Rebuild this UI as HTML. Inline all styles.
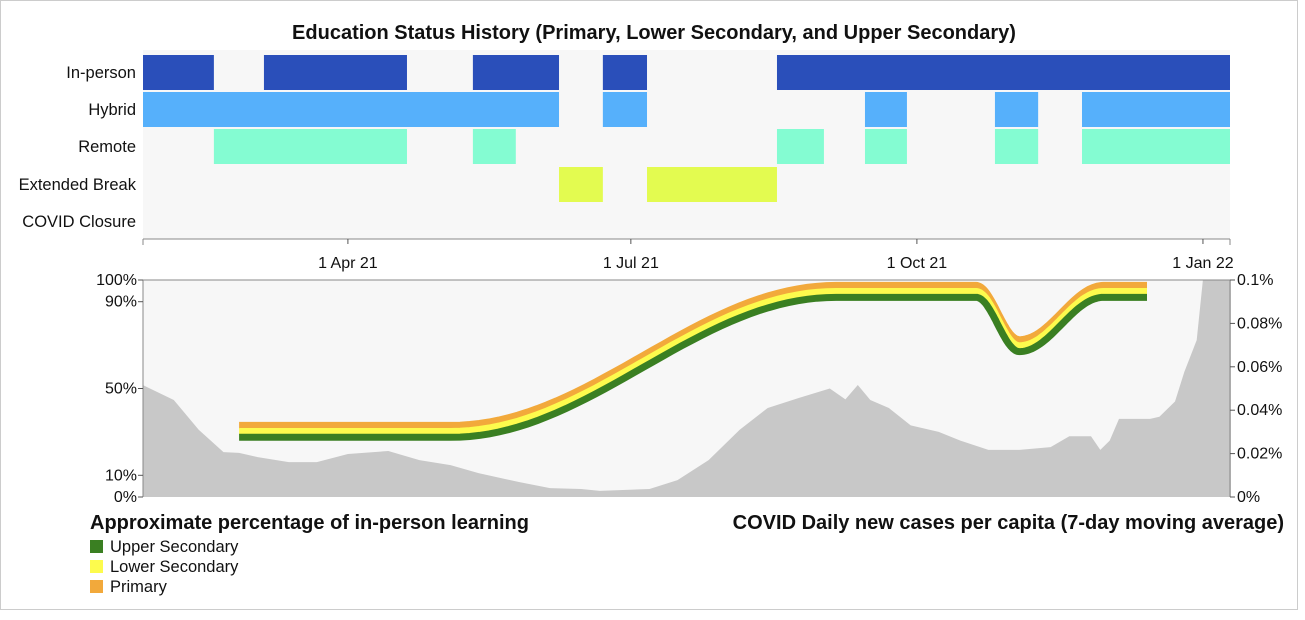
<!DOCTYPE html>
<html><head><meta charset="utf-8"><style>
body{margin:0;background:#fff;font-family:"Liberation Sans",Arial,sans-serif;}
svg text{font-family:"Liberation Sans",Arial,sans-serif;fill:#111;}
</style></head><body>
<svg id="chart" width="1305" height="615" xmlns="http://www.w3.org/2000/svg">
<rect x="0.5" y="0.5" width="1297" height="609" fill="#fff" stroke="#ccc"/>
<text x="654" y="39" text-anchor="middle" font-size="20" font-weight="bold">Education Status History (Primary, Lower Secondary, and Upper Secondary)</text>
<g id="timeline"></g>
<g id="lower"></g>
<text x="90" y="529" font-size="20" font-weight="bold">Approximate percentage of in-person learning</text>
<text x="1284" y="529" text-anchor="end" font-size="20" font-weight="bold">COVID Daily new cases per capita (7-day moving average)</text>
<g>
<rect x="90" y="540" width="13" height="13" fill="#3a7f22"/>
<text x="110" y="552" font-size="16.5">Upper Secondary</text>
<rect x="90" y="560" width="13" height="13" fill="#fdfb4d"/>
<text x="110" y="572" font-size="16.5">Lower Secondary</text>
<rect x="90" y="580" width="13" height="13" fill="#f2a93b"/>
<text x="110" y="592" font-size="16.5">Primary</text>
</g>
</svg>
<script>
// Day numbers counted from 1 Jan 2021 (day 0)
const statusRows = ["In-person","Hybrid","Remote","Extended Break","COVID Closure"];
const inPersonSpans = [[24.1,46.9],[63,109],[130.2,157.9],[172,186.2],[228,373.7]];
const hybridSpans = [[24.1,157.9],[172,186.2],[256.3,269.8],[298.1,312],[326.1,373.7]];
const remoteSpans = [[46.9,109],[130.2,144],[228,243.1],[256.3,269.8],[298.1,312],[326.1,373.7]];
const breakSpans = [[157.9,172],[186.2,228]];
const closureSpans = [];
const tickDays = [90,181,273,365];
const tickLabels = ["1 Apr 21","1 Jul 21","1 Oct 21","1 Jan 22"];
const learnDays = [55,123,247,292,306,333,347];
const upperPct = [27.5,27.5,92,92,67,92,92];
const lowerPct = [30.2,30.2,94.7,94.7,69.7,94.7,94.7];
const primaryPct = [33,33,97.5,97.5,72.5,97.5,97.5];
const caseDays = [24,34,42,50,55,61,71,80,90,103,113,123,132,145,155,165,171,187,196,206,216,225,235,245,250,254,258,264,271,280,287,296,306,316,322,329,332,335,338,348,351,356,359,363,365,374];
const casePct = [.0516,.0447,.031,.0207,.0203,.0184,.0161,.0161,.0198,.0212,.017,.0147,.011,.0069,.0041,.0037,.0028,.0037,.0078,.017,.031,.041,.0456,.05,.045,.0516,.0447,.041,.033,.03,.026,.0217,.0217,.023,.028,.028,.0217,.026,.036,.036,.037,.044,.0576,.0723,.1,.1];
const leftTicks = [0,10,50,90,100];
const rightTicks = [0,0.02,0.04,0.06,0.08,0.1];

const NS="http://www.w3.org/2000/svg";
const X0=143,X1=1230,D0=24.1,D1=373.7;
const x=d=>X0+(d-D0)/(D1-D0)*(X1-X0);
const YB=497,YT=280;
const yL=v=>YB-v/100*(YB-YT);
const yR=v=>YB-Math.min(v,0.1)/0.1*(YB-YT);
function mk(tag,attrs,parent){const e=document.createElementNS(NS,tag);for(const k in attrs)e.setAttribute(k,attrs[k]);parent.appendChild(e);return e;}

const tl=document.getElementById('timeline');
let bg=mk('rect',{x:X0,y:50,width:X1-X0,height:189,fill:'#f7f7f7'},tl);


const rowTop=[55,92,129,167,204], rowH=35;
const spans=[inPersonSpans,hybridSpans,remoteSpans,breakSpans,closureSpans];
const colors=['#2a4fba','#56b0fb','#84fcd2','#e3fb50','#d9534f'];
statusRows.forEach((r,i)=>{
  const t=mk('text',{x:136,y:rowTop[i]+23,'text-anchor':'end','font-size':'16.5'},tl);t.textContent=r;
  
  
  spans[i].forEach(s=>{
    const b=mk('rect',{x:x(s[0]),y:rowTop[i],width:x(s[1])-x(s[0]),height:rowH,fill:colors[i]},tl);
    
    
  });
});
let ax=mk('line',{x1:X0,x2:X1,y1:239,y2:239,stroke:'#888'},tl);


mk('line',{x1:X0,x2:X0,y1:239,y2:245,stroke:'#888'},tl);
mk('line',{x1:X1,x2:X1,y1:239,y2:245,stroke:'#888'},tl);
tickDays.forEach((d,i)=>{
  mk('line',{x1:x(d),x2:x(d),y1:239,y2:244,stroke:'#555'},tl);
  mk('line',{x1:x(d),x2:x(d),y1:280,y2:284,stroke:'#555'},tl);
  const t=mk('text',{x:x(d),y:268,'text-anchor':'middle','font-size':'16'},tl);t.textContent=tickLabels[i];
  
  
});

const lo=document.getElementById('lower');
let bg2=mk('rect',{x:X0,y:YT,width:X1-X0,height:YB-YT,fill:'#f7f7f7'},lo);


let dpath='M'+x(caseDays[0])+','+YB;
caseDays.forEach((d,i)=>{dpath+=' L'+x(d).toFixed(1)+','+yR(casePct[i]).toFixed(1);});
dpath+=' L'+x(caseDays[caseDays.length-1])+','+YB+'Z';
let area=mk('path',{d:dpath,fill:'#c8c8c8'},lo);


mk('line',{x1:X0,x2:X1,y1:YT,y2:YT,stroke:'#888'},lo);
mk('line',{x1:X0,x2:X0,y1:YT,y2:YB,stroke:'#888'},lo);
mk('line',{x1:X1,x2:X1,y1:YT,y2:YB,stroke:'#888'},lo);
leftTicks.forEach(v=>{
  mk('line',{x1:X0-5,x2:X0,y1:yL(v),y2:yL(v),stroke:'#555'},lo);
  const t=mk('text',{x:X0-6,y:yL(v)+5,'text-anchor':'end','font-size':'16'},lo);t.textContent=v+'%';
  
  
});
rightTicks.forEach(v=>{
  mk('line',{x1:X1,x2:X1+5,y1:yR(v),y2:yR(v),stroke:'#555'},lo);
  const t=mk('text',{x:X1+7,y:yR(v)+5,'font-size':'16'},lo);t.textContent=(v===0?'0':String(v))+'%';
  
  
});
function smooth(days,vals){
  let p='';
  for(let i=0;i<days.length-1;i++){
    for(let k=0;k<=40;k++){
      const t=k/40, e=(1-Math.cos(Math.PI*t))/2;
      const d=days[i]+(days[i+1]-days[i])*t, v=vals[i]+(vals[i+1]-vals[i])*e;
      p+=(p?' L':'M')+x(d).toFixed(1)+','+yL(v).toFixed(1);
    }
  }
  return p;
}
[[primaryPct,'#f2a93b','primary-line'],[lowerPct,'#fdfb4d','lower-secondary-line'],[upperPct,'#3a7f22','upper-secondary-line']].forEach(s=>{
  const p=mk('path',{d:smooth(learnDays,s[0]),fill:'none',stroke:s[1],'stroke-width':7},lo);
  
  
});
</script>
</body></html>
